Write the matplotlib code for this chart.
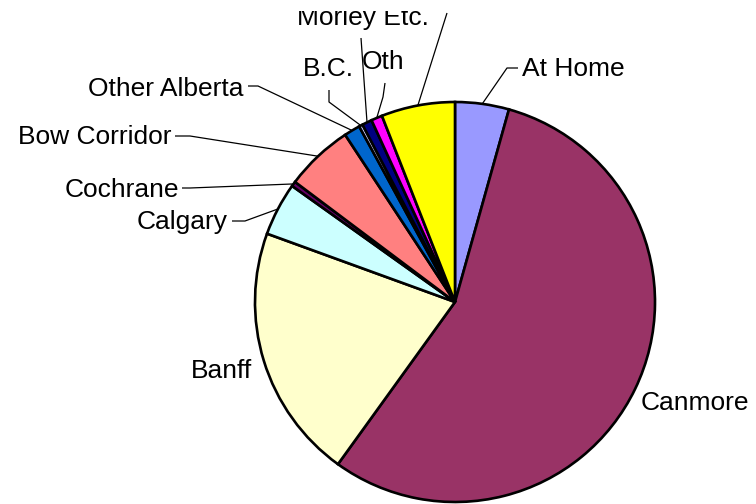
import matplotlib
matplotlib.use("Agg")
import matplotlib.pyplot as plt
from matplotlib.transforms import Bbox
import numpy as np

# ---- data ----
categories = ["At Home", "Canmore", "Banff", "Calgary", "Cochrane", "Bow Corridor",
              "Other Alberta", "B.C.", "Morley Etc.", "Oth", ""]  # last label is cut off in the source
shares = [4.35, 55.6, 20.6, 4.3, 0.4, 5.5, 1.3, 0.3, 0.8, 0.9, 5.95]
colors = ["#9999FF", "#993366", "#FFFFCC", "#CCFFFF", "#660066", "#FF8080",
          "#0066CC", "#CCCCFF", "#000080", "#FF00FF", "#FFFF00"]

# ---- layout (pixel coordinates, y downward) ----
CX, CY, R = 455, 302, 200
layout = {
    "At Home":       dict(x=522, y=76,  ha="left",  path=[(518, 68), (507, 68)]),
    "Canmore":       dict(x=641, y=410, ha="left",  path=None),
    "Banff":         dict(x=191, y=378, ha="left",  path=None),
    "Calgary":       dict(x=228, y=229, ha="right", path=[(232, 221), (245, 221)]),
    "Cochrane":      dict(x=179, y=197, ha="right", path=[(182, 188), (190, 188)]),
    "Bow Corridor":  dict(x=171, y=144, ha="right", path=[(175, 136), (190, 136)]),
    "Other Alberta": dict(x=244, y=96,  ha="right", path=[(248, 86), (258, 86)]),
    "B.C.":          dict(x=303, y=76,  ha="left",  path=[(329, 90), (329, 102)]),
    "Morley Etc.":   dict(x=429, y=25,  ha="right", path=[(361, 38)]),
    "Oth":           dict(x=362, y=69,  ha="left",  path=[(385, 83), (383, 97)]),
    "":              dict(x=None, y=None, ha="left", path=[(447, 13)]),
}

plt.rcParams["font.family"] = ["Liberation Sans", "DejaVu Sans"]
FS = 19

fig = plt.figure(figsize=(7.56, 5.04), dpi=100)
ax = fig.add_axes([0, 0, 1, 1])
wedges, _ = ax.pie(shares, colors=colors, startangle=-90, counterclock=True,
                   center=(CX, CY), radius=R,
                   wedgeprops=dict(edgecolor="black", linewidth=1.9))
ax.set_xlim(0, 756)
ax.set_ylim(504, 0)
ax.set_aspect("equal")
ax.axis("off")

for name, w in zip(categories, wedges):
    lay = layout[name]
    th = np.deg2rad((w.theta1 + w.theta2) / 2)
    anchor = (CX + R * np.cos(th), CY + R * np.sin(th))
    if lay["path"]:
        pts = list(lay["path"]) + [anchor]
        ax.plot([p[0] for p in pts], [p[1] for p in pts], color="black", lw=0.9,
                solid_capstyle="butt", zorder=3)
    if lay["x"] is not None and name:
        t = ax.text(lay["x"], lay["y"], name, ha=lay["ha"], va="baseline",
                    fontsize=FS, color="black")
        if name == "Morley Etc.":
            t.set_clip_box(Bbox.from_extents(0, 0, 756, 504 - 11))
            t.set_clip_on(True)

fig.savefig("out.png", dpi=100)
